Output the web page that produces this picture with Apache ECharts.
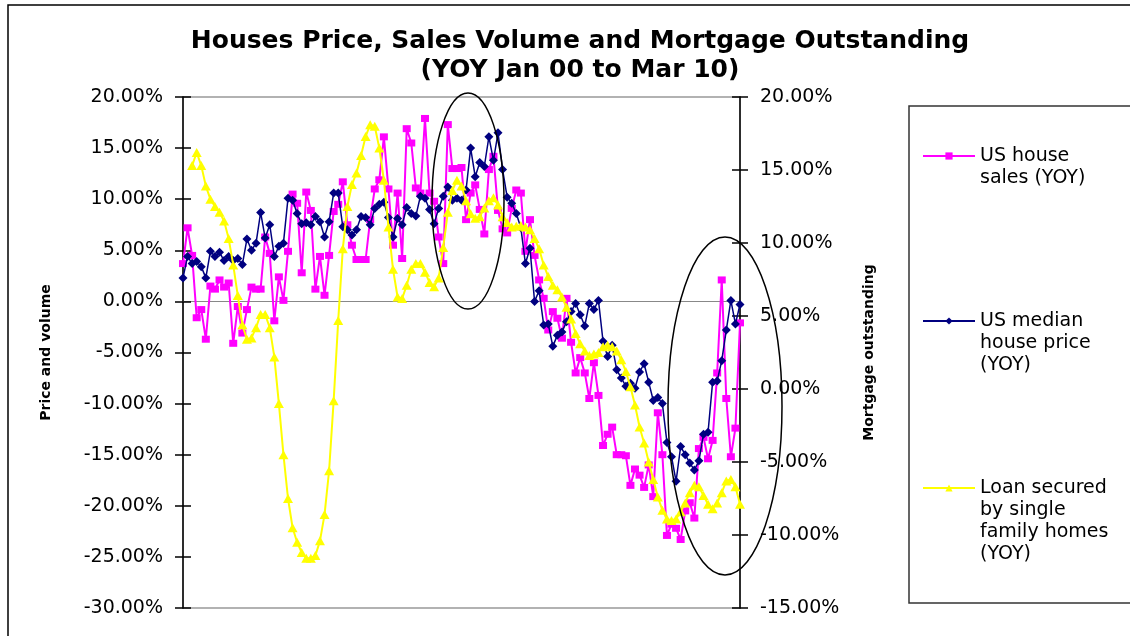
<!DOCTYPE html>
<html>
<head>
<meta charset="utf-8">
<title>Houses Price, Sales Volume and Mortgage Outstanding</title>
<script src="https://cdn.jsdelivr.net/npm/echarts@6/dist/echarts.min.js"></script>
<style>
    html, body { margin: 0; padding: 0; background: #fff; }
    #main { width: 1130px; height: 636px; }
</style>
</head>
<body>
<div id="main"></div>
<script>
// 月份 Jan 00 ~ Mar 10
var years = ['00', '01', '02', '03', '04', '05', '06', '07', '08', '09', '10'];
var monthNames = ['Jan', 'Feb', 'Mar', 'Apr', 'May', 'Jun', 'Jul', 'Aug', 'Sep', 'Oct', 'Nov', 'Dec'];
var months = [];
for (var y = 0; y < years.length; y++) {
    for (var m = 0; m < 12; m++) {
        if (y == years.length - 1 && m > 2) break;
        months.push(monthNames[m] + ' ' + years[y]);
    }
}

// US house sales (YOY) %
var houseSales = [
    3.7, 7.2, 4.5, -1.6, -0.8, -3.7, 1.5, 1.2, 2.1, 1.4, 1.8, -4.1,
    -0.5, -3.1, -0.8, 1.4, 1.2, 1.2, 6.3, 4.7, -1.9, 2.4, 0.1, 4.9,
    10.5, 9.6, 2.8, 10.7, 8.9, 1.2, 4.4, 0.6, 4.5, 8.8, 9.5, 11.7,
    7.5, 5.5, 4.1, 4.1, 4.1, 8.0, 11.0, 11.9, 16.1, 11.0, 5.5, 10.6,
    4.2, 16.9, 15.5, 11.1, 10.6, 17.9, 10.6, 9.8, 6.3, 3.7, 17.3, 13.0,
    13.0, 13.1, 8.0, 10.6, 11.4, 9.0, 6.6, 12.9, 14.2, 8.9, 7.1, 6.7,
    9.1, 10.9, 10.6, 4.9, 8.0, 4.5, 2.1, 0.3, -2.8, -1.0, -1.65, -3.6,
    0.3, -4.0, -7.0, -5.5, -7.0, -9.5, -6.0, -9.2, -14.1, -13.0, -12.3, -15.0,
    -15.0, -15.1, -18.0, -16.4, -17.0, -18.2, -16.0, -19.1, -10.9, -15.0, -22.9, -21.8,
    -22.2, -23.3, -20.5, -19.7, -21.2, -14.4, -13.3, -15.4, -13.6, -7.0, 2.1, -9.5,
    -15.2, -12.4, -2.1
];

// US median house price (YOY) %
var medianPrice = [
    2.3, 4.4, 3.7, 3.9, 3.4, 2.3, 4.9, 4.4, 4.8, 4.0, 4.4, 4.0,
    4.2, 3.6, 6.1, 5.0, 5.7, 8.7, 6.2, 7.5, 4.4, 5.4, 5.7, 10.1,
    9.9, 8.6, 7.6, 7.7, 7.5, 8.3, 7.8, 6.3, 7.8, 10.6, 10.6, 7.3,
    7.0, 6.5, 7.0, 8.3, 8.2, 7.5, 9.1, 9.5, 9.7, 8.2, 6.3, 8.1,
    7.5, 9.2, 8.6, 8.35, 10.3, 10.1, 9.0, 7.6, 9.1, 10.3, 11.2, 9.9,
    10.1, 9.9, 10.9, 15.0, 12.2, 13.6, 13.2, 16.1, 13.8, 16.5, 12.9, 10.2,
    9.6, 8.6, 7.2, 3.7, 5.2, 0.0, 1.05, -2.3, -2.2, -4.4, -3.3, -3.0,
    -2.0, -1.0, -0.2, -1.3, -2.4, -0.2, -0.8, 0.1, -3.9, -5.4, -4.3, -6.7,
    -7.5, -8.3, -8.0, -8.5, -6.9, -6.1, -7.9, -9.7, -9.4, -10.0, -13.8, -15.2,
    -17.6, -14.2, -15.0, -15.8, -16.5, -15.6, -13.0, -12.8, -7.9, -7.8, -5.8, -2.8,
    0.1, -2.2, -0.3
];

// Loan secured by single family homes (YOY) %, right axis
var loanSecured = [
    null, null, 15.3, 16.2, 15.3, 13.9, 13.0, 12.5, 12.1, 11.5, 10.3, 8.5,
    6.4, 4.4, 3.4, 3.5, 4.2, 5.1, 5.1, 4.2, 2.2, -1.0, -4.5, -7.5,
    -9.5, -10.5, -11.2, -11.6, -11.6, -11.4, -10.4, -8.6, -5.6, -0.8, 4.7, 9.6,
    12.5, 14.0, 14.8, 16.0, 17.3, 18.1, 18.0, 16.5, 14.3, 11.1, 8.2, 6.3,
    6.2, 7.1, 8.2, 8.6, 8.6, 8.0, 7.3, 7.0, 7.6, 9.7, 12.1, 13.6,
    14.3, 13.9, 12.9, 12.0, 11.7, 11.8, 12.4, 12.9, 13.1, 12.6, 11.8, 11.4,
    11.1, 11.15, 11.2, 11.1, 10.9, 10.3, 9.6, 8.5, 7.7, 7.1, 6.8, 6.3,
    5.6, 4.8, 3.8, 3.1, 2.6, 2.3, 2.4, 2.5, 2.9, 3.0, 2.9, 2.6,
    2.0, 1.2, 0.15, -1.1, -2.6, -3.7, -5.0, -6.2, -7.4, -8.3, -8.9, -9.0,
    -8.9, -8.4, -7.8, -7.1, -6.6, -6.7, -7.3, -7.9, -8.2, -7.8, -7.1, -6.3,
    -6.2, -6.7, -7.9
];

var seriesNames = ['US house\nsales (YOY)', 'US median\nhouse price\n(YOY)', 'Loan secured\nby single\nfamily homes\n(YOY)'];

var myChart = echarts.init(document.getElementById('main'));

var pct = function (v) { return v.toFixed(2) + '%'; };
var labelFont = { color: '#000', fontFamily: 'DejaVu Sans', fontSize: 19 };

// 图例: 每项单独一个 legend, 文字首行与图标对齐
// (在前面补空行, 让居中后的第一行正好落在图标上)
function legendAt(name, top) {
    var n = name.split('\n').length;
    var blank = new Array(n).join('\n');
    return {
        data: [name],
        orient: 'vertical',
        left: 922,
        top: top,
        padding: 0,
        itemWidth: 52,
        itemHeight: 9,
        selectedMode: false,
        formatter: function (s) { return blank + s; },
        textStyle: {
            color: '#000',
            fontFamily: 'DejaVu Sans',
            fontSize: 19,
            lineHeight: 22
        }
    };
}

var option = {
    animation: false,
    backgroundColor: '#fff',
    title: {
        text: 'Houses Price, Sales Volume and Mortgage Outstanding\n(YOY Jan 00 to Mar 10)',
        left: 575,
        top: 22,
        textAlign: 'center',
        textStyle: {
            color: '#000',
            fontFamily: 'DejaVu Sans',
            fontWeight: 'bold',
            fontSize: 25,
            lineHeight: 29
        }
    },
    legend: [
        legendAt(seriesNames[0], 123),
        legendAt(seriesNames[1], 266),
        legendAt(seriesNames[2], 411)
    ],
    grid: {
        left: 183,
        right: 390,
        top: 97,
        bottom: 28,
        show: true,
        borderColor: '#999',
        borderWidth: 1.5
    },
    xAxis: {
        type: 'category',
        data: months,
        boundaryGap: false,
        axisLine: { lineStyle: { color: '#888', width: 1 } },
        axisTick: { show: false },
        axisLabel: { show: false },
        splitLine: { show: false }
    },
    yAxis: [
        { // 左轴: 价格和销量
            type: 'value',
            position: 'left',
            min: -30, max: 20, interval: 5,
            name: 'Price and volume',
            nameLocation: 'middle',
            nameRotate: 90,
            nameGap: 130,
            nameTextStyle: { color: '#000', fontFamily: 'DejaVu Sans', fontWeight: 'bold', fontSize: 14 },
            axisLine: { show: true, lineStyle: { color: '#000', width: 1.5 } },
            axisTick: { show: true, length: 8, lineStyle: { color: '#000', width: 1.5 } },
            axisLabel: Object.assign({ margin: 20, formatter: pct }, labelFont),
            splitLine: { show: false }
        },
        { // 右轴: 按揭余额
            type: 'value',
            position: 'right',
            min: -15, max: 20, interval: 5,
            name: 'Mortgage outstanding',
            nameLocation: 'middle',
            nameRotate: 90,
            nameGap: 122,
            nameTextStyle: { color: '#000', fontFamily: 'DejaVu Sans', fontWeight: 'bold', fontSize: 14 },
            axisLine: { show: true, lineStyle: { color: '#000', width: 1.5 } },
            axisTick: { show: true, length: 8, lineStyle: { color: '#000', width: 1.5 } },
            axisLabel: Object.assign({ margin: 20, formatter: pct }, labelFont),
            splitLine: { show: false }
        },
        { // 左轴内侧刻度 (交叉刻度)
            type: 'value', position: 'left', min: -30, max: 20, interval: 5,
            axisLine: { show: false },
            axisTick: { show: true, inside: true, length: 8, lineStyle: { color: '#000', width: 1.5 } },
            axisLabel: { show: false },
            splitLine: { show: false }
        },
        { // 右轴内侧刻度
            type: 'value', position: 'right', min: -15, max: 20, interval: 5,
            axisLine: { show: false },
            axisTick: { show: true, inside: true, length: 8, lineStyle: { color: '#000', width: 1.5 } },
            axisLabel: { show: false },
            splitLine: { show: false }
        }
    ],
    series: [
        {
            name: seriesNames[0],
            type: 'line',
            data: houseSales,
            symbol: 'rect',
            symbolSize: [8, 7],
            showAllSymbol: true,
            itemStyle: { color: '#FF00FF' },
            lineStyle: { color: '#FF00FF', width: 2 },
            z: 2
        },
        {
            name: seriesNames[1],
            type: 'line',
            data: medianPrice,
            symbol: 'diamond',
            symbolSize: [9, 9],
            showAllSymbol: true,
            itemStyle: { color: '#000080' },
            lineStyle: { color: '#000080', width: 1.5 },
            z: 3
        },
        {
            name: seriesNames[2],
            type: 'line',
            yAxisIndex: 1,
            data: loanSecured,
            symbol: 'triangle',
            symbolSize: [10, 9],
            showAllSymbol: true,
            itemStyle: { color: '#FFFF00' },
            lineStyle: { color: '#FFFF00', width: 2 },
            z: 4
        }
    ],
    graphic: [
        { // 外框
            type: 'rect', z: 0, silent: true,
            shape: { x: 8, y: 5, width: 1140, height: 700 },
            style: { fill: null, stroke: '#000', lineWidth: 1.5 }
        },
        { // 图例框
            type: 'rect', z: 0, silent: true,
            shape: { x: 909, y: 106, width: 240, height: 497 },
            style: { fill: null, stroke: '#333', lineWidth: 1.5 }
        },
        { // 椭圆标注 1
            type: 'ellipse', z: 100, silent: true,
            shape: { cx: 468, cy: 201, rx: 36, ry: 108 },
            style: { fill: null, stroke: '#000', lineWidth: 1.5 }
        },
        { // 椭圆标注 2
            type: 'ellipse', z: 100, silent: true,
            shape: { cx: 725, cy: 406, rx: 57, ry: 169 },
            style: { fill: null, stroke: '#000', lineWidth: 1.5 }
        }
    ]
};

myChart.setOption(option);
</script>
</body>
</html>
